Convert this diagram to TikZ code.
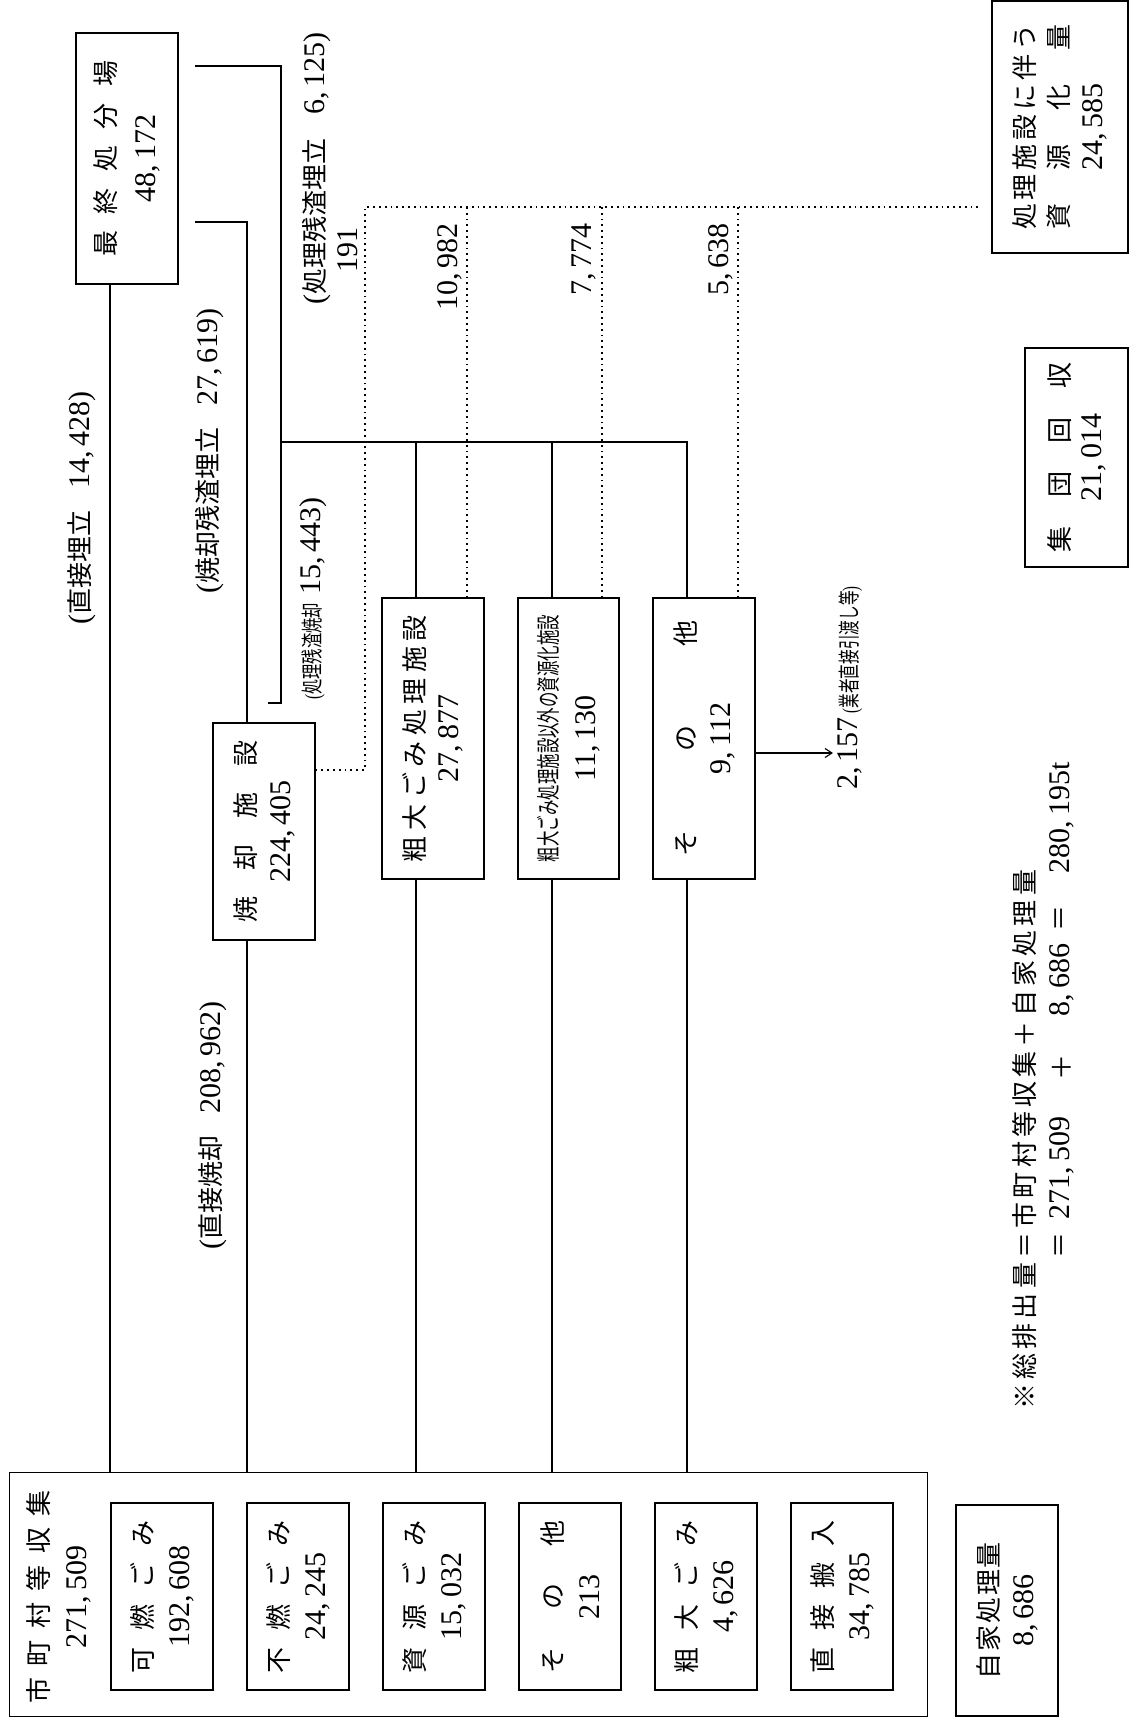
\documentclass[tikz,border=0pt]{standalone}
\usepackage{fontspec}
\usepackage{graphicx}
\newfontfamily\jp{Noto Sans CJK JP}
\newfontfamily\numf{Liberation Serif}
\usetikzlibrary{arrows.meta,calc}
\newcommand\NF{\fontsize{30}{37}\numf}
\newcommand\cm{,\hspace{5pt}}
\newcommand\distr[2]{\makebox[#1][s]{#2}}
\begin{document}
\begin{tikzpicture}[x=1pt,y=-1pt,
 box/.style={draw, line width=1.1pt, rotate=90, align=center, inner sep=0pt, font=\fontsize{26}{37}\jp},
 lbl/.style={rotate=90, inner sep=0pt, font=\fontsize{26}{37}\jp},
 conn/.style={line width=1.1pt},
 dots/.style={line width=1.8pt, dash pattern=on 1.8pt off 4pt}]
\fill[white] (0,0) rectangle (1135,1720);
\useasboundingbox (0,0) rectangle (1135,1720);

% big collection box
\node[draw, line width=1.1pt, minimum width=918pt, minimum height=244pt, anchor=north west, inner sep=0pt] (bigbox) at (9,1472) {};
\node[lbl, align=center, font=\fontsize{26}{38}\jp] (bigtitle) at (59,1597) {\distr{213pt}{市\hfill 町\hfill 村\hfill 等\hfill 収\hfill 集}\\{\NF 271\cm 509}};
\node[box, minimum width=187pt, minimum height=102pt] (kanen) at (162,1596.5) {\distr{153pt}{可\hfill 燃\hfill ご\hfill み}\\{\NF 192\cm 608}};
\node[box, minimum width=187pt, minimum height=102pt] (funen) at (298,1596.5) {\distr{153pt}{不\hfill 燃\hfill ご\hfill み}\\{\NF 24\cm 245}};
\node[box, minimum width=187pt, minimum height=102pt] (shigen) at (434,1596.5) {\distr{153pt}{資\hfill 源\hfill ご\hfill み}\\{\NF 15\cm 032}};
\node[box, minimum width=187pt, minimum height=102pt] (sonotaA) at (570,1596.5) {\distr{153pt}{そ\hfill の\hfill 他}\\{\NF 213}};
\node[box, minimum width=187pt, minimum height=102pt] (sodaiA) at (706,1596.5) {\distr{153pt}{粗\hfill 大\hfill ご\hfill み}\\{\NF 4\cm 626}};
\node[box, minimum width=187pt, minimum height=102pt] (hannyu) at (842,1596.5) {\distr{153pt}{直\hfill 接\hfill 搬\hfill 入}\\{\NF 34\cm 785}};

\node[box, minimum width=211pt, minimum height=102pt, font=\fontsize{26}{35}\jp] (jika) at (1007,1610.5) {\distr{137pt}{自\hfill 家\hfill 処\hfill 理\hfill 量}\\{\NF 8\cm 686}};

% facilities
\node[box, minimum width=251pt, minimum height=102pt, font=\fontsize{26}{40}\jp] (saishu) at (127,158.5) {\distr{196pt}{最\hfill 終\hfill 処\hfill 分\hfill 場}\\{\NF 48\cm 172}};
\node[box, minimum width=217pt, minimum height=102pt, font=\fontsize{26}{35}\jp] (shokyaku) at (264,831.5) {\distr{182pt}{焼\hfill 却\hfill 施\hfill 設}\\{\NF 224\cm 405}};
\node[box, minimum width=281pt, minimum height=102pt, font=\fontsize{26}{34}\jp] (sodaishori) at (433,738.5) {\distr{247pt}{粗\hfill 大\hfill ご\hfill み\hfill 処\hfill 理\hfill 施\hfill 設}\\{\NF 27\cm 877}};
\node[box, minimum width=281pt, minimum height=101pt, font=\fontsize{24}{38}\jp] (shigenka) at (568.5,738.5) {\resizebox{247pt}{\height}{粗大ごみ処理施設以外の資源化施設}\\{\NF 11\cm 130}};
\node[box, minimum width=281pt, minimum height=102pt, font=\fontsize{26}{35}\jp] (sonotaB) at (704,738.5) {\distr{236pt}{そ\hfill の\hfill 他}\\{\NF 9\cm 112}};
\node[box, minimum width=219pt, minimum height=103pt, font=\fontsize{26}{32}\jp] (shudan) at (1076.5,457.5) {\distr{190pt}{集\hfill 団\hfill 回\hfill 収}\\{\NF 21\cm 014}};
\node[box, minimum width=252pt, minimum height=136pt, font=\fontsize{26}{34}\jp] (shisetsu) at (1060,127) {\distr{206pt}{処\hfill 理\hfill 施\hfill 設\hfill に\hfill 伴\hfill う}\\\distr{206pt}{資\hfill 源\hfill 化\hfill 量}\\{\NF 24\cm 585}};

% flow labels
\node[lbl, anchor=west] (lab1) at (82,625) {{\NF(}直接埋立\hspace{22pt}{\NF 14\cm 428)}};
\node[lbl, anchor=west] (lab2) at (210,594) {{\NF(}焼却残渣埋立\hspace{22pt}{\NF 27\cm 619)}};
\node[lbl, anchor=west] (lab3) at (317,305) {{\NF(}処理残渣埋立\hspace{24pt}{\NF 6\cm 125)}};
\node[lbl, anchor=west] (lab4) at (213,1250) {{\NF(}直接焼却\hspace{22pt}{\NF 208\cm 962)}};
\node[lbl, anchor=west] (lab5) at (313,700) {\resizebox{97pt}{\height}{{\fontsize{22}{22}\numf(}{\fontsize{22}{22}\jp 処理残渣焼却}}\hspace{8pt}{\NF 15\cm 443)}};
\node[lbl, anchor=east] (v191) at (348,227) {\NF 191};
\node[lbl, anchor=east] (v10982) at (450,223) {\NF 10\cm 982};
\node[lbl, anchor=east] (v7774) at (584,223) {\NF 7\cm 774};
\node[lbl, anchor=east] (v5638) at (721,223) {\NF 5\cm 638};
\node[lbl, anchor=west] (v2157) at (850,790) {{\NF 2\cm 157}\hspace{4pt}\resizebox{127pt}{\height}{{\fontsize{22}{22}\numf(}{\fontsize{22}{22}\jp 業者直接引渡し等}{\fontsize{22}{22}\numf)}}};

% footnote
\node[lbl, anchor=west] (note1) at (1025,1410) {\distr{540pt}{※\hfill 総\hfill 排\hfill 出\hfill 量\hfill ＝\hfill 市\hfill 町\hfill 村\hfill 等\hfill 収\hfill 集\hfill ＋\hfill 自\hfill 家\hfill 処\hfill 理\hfill 量}};
\node[lbl] (eqA) at (1062,1245) {＝};
\node[lbl] (numA) at (1062,1168) {\NF 271\cm 509};
\node[lbl] (plusA) at (1062,1067) {＋};
\node[lbl] (numB) at (1062,980) {\NF 8\cm 686};
\node[lbl] (eqB) at (1062,918) {＝};
\node[lbl] (numC) at (1062,818) {\NF 280\cm 195t};

% helper coordinates
\coordinate (xa) at (110,0);
\coordinate (xb) at (247,0);
\coordinate (xc) at (416,0);
\coordinate (xd) at (552,0);
\coordinate (xe) at (687,0);
\coordinate (xf) at (281,0);
\coordinate (jy) at (0,442);
\coordinate (r1) at (195,222);
\coordinate (r2) at (195,66);
\coordinate (stub) at (268,703);
\coordinate (dy) at (0,207);
\coordinate (dx) at (365,0);
\coordinate (s1) at (0,770);
\coordinate (d2) at (467,0);
\coordinate (d3) at (602,0);
\coordinate (d4) at (738,0);
\coordinate (dend) at (981,207);
\coordinate (arr) at (833,753);

% solid connectors
\draw[conn] (saishu.west -| xa) -- (bigbox.north -| xa);
\draw[conn] (shokyaku.west -| xb) -- (bigbox.north -| xb);
\draw[conn] (sodaishori.west -| xc) -- (bigbox.north -| xc);
\draw[conn] (shigenka.west -| xd) -- (bigbox.north -| xd);
\draw[conn] (sonotaB.west -| xe) -- (bigbox.north -| xe);
\draw[conn] (shokyaku.east -| xb) -- (xb |- r1) -- (r1);
\draw[conn] (sodaishori.east -| xc) -- (xc |- jy);
\draw[conn] (shigenka.east -| xd) -- (xd |- jy);
\draw[conn] (sonotaB.east -| xe) -- (xe |- jy) -- (xf |- jy);
\draw[conn] (r2) -- (xf |- r2) -- (xf |- stub) -- (stub);
\draw[conn, -{Straight Barb[length=7pt,width=9pt]}] (sonotaB.south |- arr) -- (arr);

% dotted connectors
\draw[dots] (shokyaku.south |- s1) -- (dx |- s1) -- (dx |- dy) -- (dend);
\draw[dots] (sodaishori.east -| d2) -- (d2 |- dy);
\draw[dots] (shigenka.east -| d3) -- (d3 |- dy);
\draw[dots] (sonotaB.east -| d4) -- (d4 |- dy);
\end{tikzpicture}
\end{document}
